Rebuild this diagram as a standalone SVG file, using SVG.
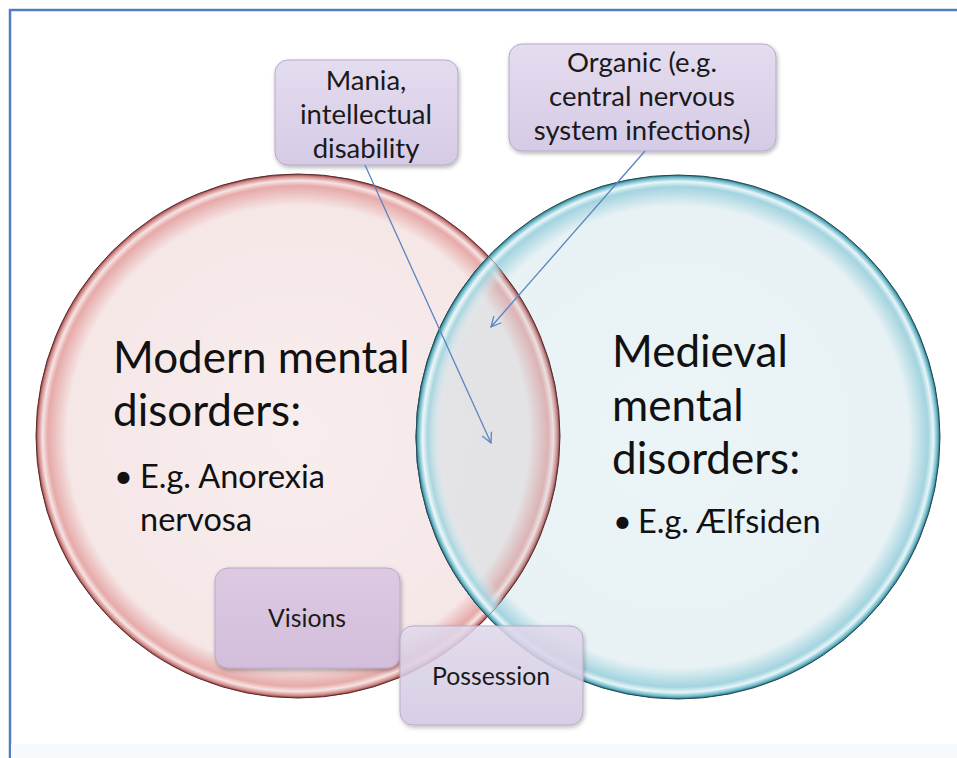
<svg xmlns="http://www.w3.org/2000/svg" width="957" height="758" viewBox="0 0 957 758">
<style>
.big{font-family:Lato,"Open Sans","Liberation Sans",sans-serif;font-size:44px;fill:#111}
.bul{font-family:Lato,"Open Sans","Liberation Sans",sans-serif;font-size:32.5px;fill:#111}
.bx{font-family:Lato,"Open Sans","Liberation Sans",sans-serif;font-size:27.5px;fill:#1a1a1a;text-anchor:middle}
.bx2{font-family:Lato,"Open Sans","Liberation Sans",sans-serif;font-size:24.8px;fill:#1a1a1a;text-anchor:middle}
.box{stroke:#b7aac8;stroke-width:1;filter:url(#sh)}
.conn{stroke:#5b84c0;stroke-width:1.3;fill:none;marker-end:url(#ah)}
</style>
<defs>
<radialGradient id="gL" cx="0.5" cy="0.5" r="0.5">
<stop offset="0" stop-color="#f8eded"/>
<stop offset="0.88" stop-color="#f6e7e7"/>
<stop offset="0.955" stop-color="#e6aaa9"/>
<stop offset="0.975" stop-color="#f6e4e4"/>
<stop offset="0.99" stop-color="#d58e8d"/>
<stop offset="1" stop-color="#8c3f3e"/>
</radialGradient>
<radialGradient id="gLg" cx="0.5" cy="0.5" r="0.5">
<stop offset="0" stop-color="#e4e4e7"/>
<stop offset="0.88" stop-color="#e3e3e6"/>
<stop offset="0.955" stop-color="#dcb3b4"/>
<stop offset="0.975" stop-color="#ece0e1"/>
<stop offset="0.99" stop-color="#c99192"/>
<stop offset="1" stop-color="#7d4142"/>
</radialGradient>
<radialGradient id="gR" cx="0.5" cy="0.5" r="0.5">
<stop offset="0" stop-color="#ebf4f7"/>
<stop offset="0.88" stop-color="#e8f2f5"/>
<stop offset="0.955" stop-color="#a3d4df"/>
<stop offset="0.975" stop-color="#e8f5f8"/>
<stop offset="0.99" stop-color="#6fbccd"/>
<stop offset="1" stop-color="#2f6f7c"/>
</radialGradient>
<radialGradient id="gRr" cx="0.5" cy="0.5" r="0.5">
<stop offset="0" stop-color="#e8f2f5" stop-opacity="0"/>
<stop offset="0.9" stop-color="#e8f2f5" stop-opacity="0"/>
<stop offset="0.955" stop-color="#a3d4df" stop-opacity="0.9"/>
<stop offset="0.975" stop-color="#eef8fa" stop-opacity="0.95"/>
<stop offset="0.99" stop-color="#6fbccd"/>
<stop offset="1" stop-color="#2f6f7c"/>
</radialGradient>
<clipPath id="cR"><circle cx="678" cy="437" r="262"/></clipPath>
<clipPath id="cL"><circle cx="298" cy="436" r="262"/></clipPath>
<linearGradient id="gB" x1="0" y1="0" x2="0" y2="1">
<stop offset="0" stop-color="#e4dcef"/>
<stop offset="1" stop-color="#d6cbe6"/>
</linearGradient>
<linearGradient id="gB2" x1="0" y1="0" x2="0" y2="1">
<stop offset="0" stop-color="#ddc9e2"/>
<stop offset="1" stop-color="#d3bedb"/>
</linearGradient>
<filter id="sh" x="-10%" y="-10%" width="125%" height="130%">
<feDropShadow dx="1" dy="2" stdDeviation="2" flood-color="#000" flood-opacity="0.3"/>
</filter>
<marker id="ah" viewBox="0 0 12 12" refX="11" refY="6" markerWidth="12" markerHeight="12" markerUnits="userSpaceOnUse" orient="auto">
<path d="M1,1 L11,6 L1,11" fill="none" stroke="#5b84c0" stroke-width="1.3"/>
</marker>
</defs>
<rect width="957" height="758" fill="#fff"/>
<path d="M10,758 V10 H957" fill="none" stroke="#4f7ec0" stroke-width="2.5"/>
<rect x="11" y="744" width="946" height="14" fill="#f6fafd"/>

<g id="modern">
<circle cx="298" cy="436" r="262" fill="url(#gL)" stroke="#5a2a2a" stroke-width="1"/>
</g>
<g id="medieval">
<circle cx="678" cy="437" r="262" fill="url(#gR)" stroke="#1f4a52" stroke-width="1"/>
</g>
<g id="overlap">
<circle cx="298" cy="436" r="262" fill="url(#gLg)" stroke="#5a2a2a" stroke-width="1" clip-path="url(#cR)"/>
<circle cx="678" cy="437" r="262" fill="url(#gRr)" stroke="#1f4a52" stroke-width="1" clip-path="url(#cL)"/>
</g>
<g id="modern-text">
<text class="big" x="113" y="373">Modern mental</text>
<text class="big" x="113" y="426">disorders:</text>
<text class="bul" x="114" y="488">•</text>
<text class="bul" x="140" y="488">E.g. Anorexia</text>
<text class="bul" x="140" y="531">nervosa</text>
</g>
<g id="medieval-text">
<text class="big" x="612" y="367">Medieval</text>
<text class="big" x="612" y="421">mental</text>
<text class="big" x="612" y="474">disorders:</text>
<text class="bul" x="613" y="533">•</text>
<text class="bul" x="638" y="533">E.g. Ælfsiden</text>
</g>

<g id="mania">
<rect class="box" x="275" y="60" width="183" height="105" rx="13" fill="url(#gB)"/>
<text class="bx" x="366" y="90">Mania,</text>
<text class="bx" x="366" y="124">intellectual</text>
<text class="bx" x="366" y="158">disability</text>
</g>
<g id="organic">
<rect class="box" x="509" y="44" width="267" height="107" rx="13" fill="url(#gB)"/>
<text class="bx" x="642" y="72">Organic (e.g.</text>
<text class="bx" x="642" y="106">central nervous</text>
<text class="bx" x="642" y="140">system infections)</text>
</g>
<g id="visions">
<rect class="box" x="215" y="568" width="185" height="100" rx="13" fill="url(#gB2)"/>
<text class="bx2" x="307" y="627">Visions</text>
</g>
<g id="possession">
<rect class="box" x="400" y="626" width="183" height="99" rx="13" fill="url(#gB)" fill-opacity="0.82"/>
<text class="bx2" x="491" y="685">Possession</text>
</g>

<g id="connectors">
<line class="conn" x1="365" y1="165" x2="491" y2="443"/>
<line class="conn" x1="645" y1="151" x2="491" y2="327"/>
</g>
</svg>
